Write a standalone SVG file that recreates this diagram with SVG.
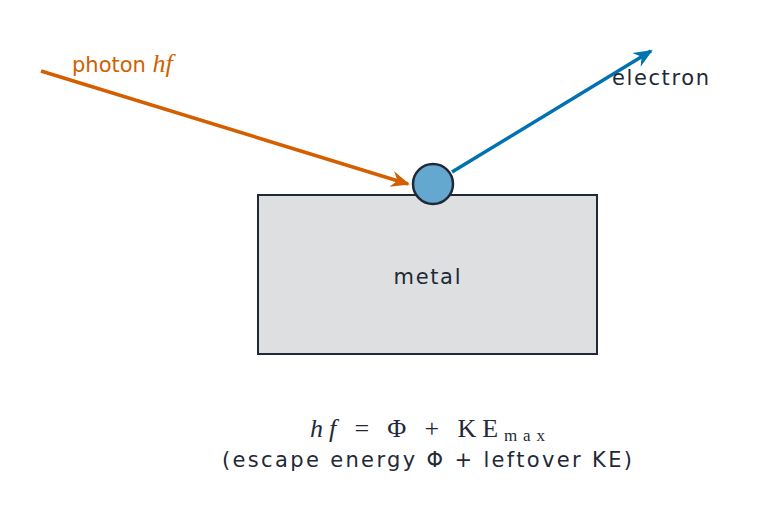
<svg xmlns="http://www.w3.org/2000/svg" width="763" height="528" viewBox="0 0 763 528">
<style>
.t{font-family:"DejaVu Sans",sans-serif;font-size:21px;fill:#1f2937}
.m{font-family:"Liberation Serif",serif;font-size:26px;fill:#1f2937}
.i{font-style:italic}
</style>
<defs>
<marker id="ao" viewBox="-20 -10 24 20" refX="0" refY="0" markerWidth="24" markerHeight="20" orient="auto" markerUnits="userSpaceOnUse">
<path d="M2,0 L-17,-8 L-11,0 L-17,8 Z" fill="#d35f00"/>
</marker>
<marker id="ab" viewBox="-20 -10 24 20" refX="0" refY="0" markerWidth="24" markerHeight="20" orient="auto" markerUnits="userSpaceOnUse">
<path d="M2,0 L-17,-8 L-11,0 L-17,8 Z" fill="#0072b2"/>
</marker>
</defs>
<rect width="763" height="528" fill="#fff"/>
<g id="metal">
<rect x="258" y="195" width="339" height="159" fill="#dddfe1" stroke="#1f2937" stroke-width="2"/>
<text class="t" x="427" y="284" text-anchor="middle" textLength="67">metal</text>
</g>
<g id="connectors">
<line x1="41" y1="71" x2="408" y2="184" stroke="#d35f00" stroke-width="3.5" marker-end="url(#ao)"/>
<line x1="452" y1="172" x2="651" y2="51" stroke="#0072b2" stroke-width="3.5" marker-end="url(#ab)"/>
</g>
<g id="electron-dot">
<circle cx="433" cy="184" r="20" fill="#64a8d0" stroke="#1f2937" stroke-width="2.5"/>
</g>
<text class="t" x="72" y="72" style="fill:#d35f00">photon <tspan class="m i" style="fill:#d35f00">hf</tspan></text>
<text class="t" x="612" y="85" textLength="97">electron</text>
<g id="formula">
<text class="m" x="310" y="437" textLength="235"><tspan class="i">hf</tspan> = Φ + KE<tspan font-size="17" dy="4">max</tspan></text>
<text class="t" x="222" y="467" textLength="410">(escape energy Φ + leftover KE)</text>
</g>
</svg>
